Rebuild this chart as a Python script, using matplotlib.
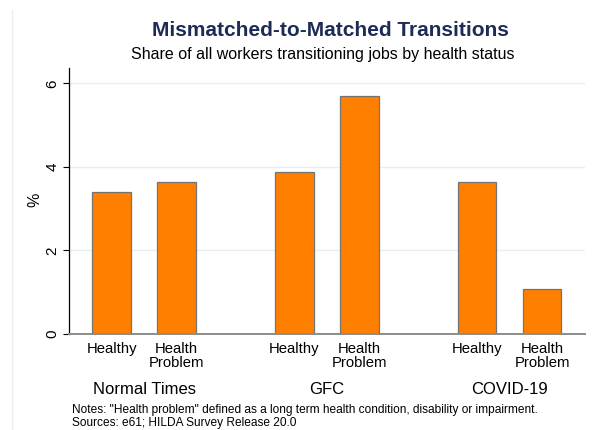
import matplotlib
matplotlib.use("Agg")
import matplotlib.pyplot as plt
from matplotlib.lines import Line2D
import matplotlib.transforms as mtransforms

plt.rcParams['font.family'] = ['Liberation Sans', 'DejaVu Sans']

# Data
groups = ["Normal Times", "GFC", "COVID-19"]
statuses = ["Healthy", "Health\nProblem"]
values = [
    [3.40, 3.64],   # Normal Times
    [3.88, 5.69],   # GFC
    [3.64, 1.07],   # COVID-19
]
y_ticks = [0, 2, 4, 6]

title = "Mismatched-to-Matched Transitions"
subtitle = "Share of all workers transitioning jobs by health status"
notes = ('Notes: "Health problem" defined as a long term health condition, disability or impairment.\n'
         'Sources: e61; HILDA Survey Release 20.0')

# Layout
W, H = 598, 430
fig = plt.figure(figsize=(W / 100, H / 100), dpi=100)
fig.patch.set_facecolor('white')

ax = fig.add_axes([69.3 / W, 1 - 334 / H, (585 - 69.3) / W, (334 - 68.3) / H])

group_step = 2.81
bar_w = 0.595
xs, hs, labels, centers = [], [], [], []
for gi, g in enumerate(groups):
    pos = []
    for si, s in enumerate(statuses):
        x = gi * group_step + si
        xs.append(x)
        hs.append(values[gi][si])
        labels.append(s)
        pos.append(x)
    centers.append(sum(pos) / len(pos))

ax.bar(xs, hs, width=bar_w, color='#ff8000', edgecolor='#737373', linewidth=0.9, zorder=3)

ax.set_xlim(-0.652, 7.28)
ax.set_ylim(0, 6.36)

ax.set_yticks(y_ticks)
ax.set_yticklabels([str(t) for t in y_ticks], rotation=90, va='center', fontsize=11)
ax.tick_params(axis='y', length=4.3, width=0.8, color='black', pad=3)
for t in y_ticks[1:]:
    ax.axhline(t, color='#e6eff1', linewidth=1.0, zorder=1)

ax.set_xticks(xs)
ax.set_xticklabels(labels, fontsize=10.7, linespacing=1.0)
ax.tick_params(axis='x', length=0, pad=6)

ax.set_ylabel('%', fontsize=11.5, va='center')
ax.yaxis.set_label_coords((35 - 69.3) / (585 - 69.3), (334 - 200) / (334 - 68.3))

for side in ['top', 'right']:
    ax.spines[side].set_visible(False)
ax.spines['left'].set_color('black')
ax.spines['left'].set_linewidth(0.9)
ax.spines['bottom'].set_color('#8c8c8c')
ax.spines['bottom'].set_linewidth(1.4)
ax.spines['bottom'].set_zorder(4)

trans = mtransforms.blended_transform_factory(ax.transData, fig.transFigure)
for c, g in zip(centers, groups):
    ax.text(c, 1 - 389 / H, g, transform=trans, ha='center', va='center', fontsize=12)

fig.text(330 / W, 1 - 31 / H, title, ha='center', va='center', fontsize=15,
         fontweight='bold', color='#1d2b57')
fig.text(323 / W, 1 - 54 / H, subtitle, ha='center', va='center', fontsize=11.5, color='black')

fig.text(72 / W, 1 - 416.5 / H, notes, ha='left', va='center', fontsize=8.6, linespacing=1.08)

fig.add_artist(Line2D([12 / W, 12 / W], [0, 1 - 10 / H], transform=fig.transFigure,
                      color='#e8eff1', linewidth=1.0))

fig.savefig('out.png', dpi=100)
